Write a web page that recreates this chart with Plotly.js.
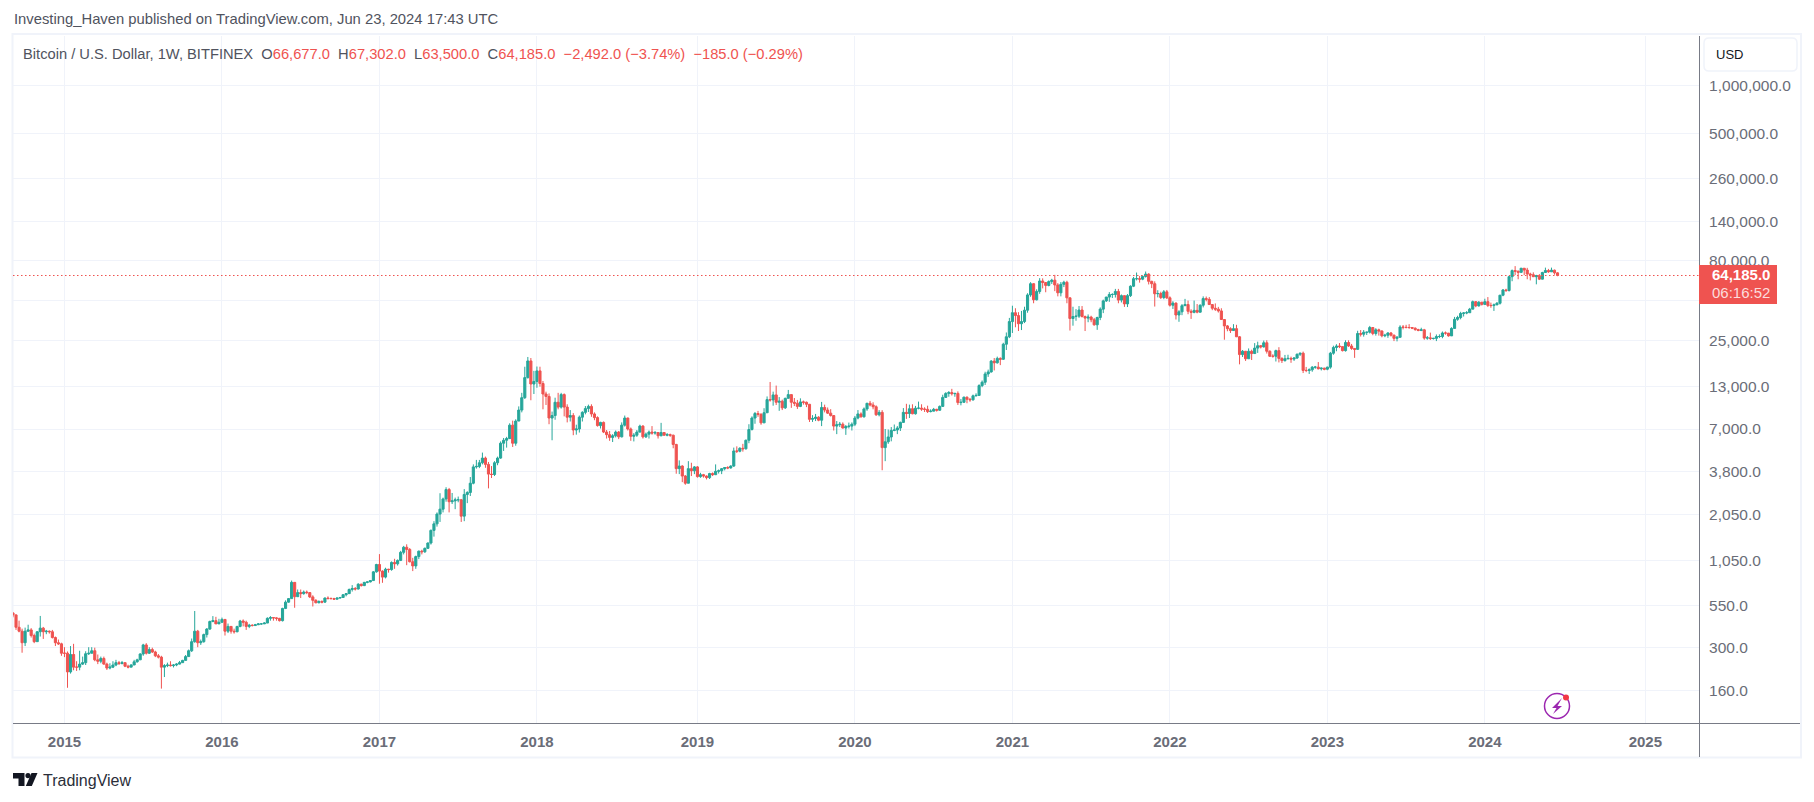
<!DOCTYPE html>
<html>
<head>
<meta charset="utf-8">
<script src="https://cdn.plot.ly/plotly-3.0.0.min.js"></script>
<style>html,body{margin:0;padding:0;background:#fff}#chart{width:1814px;height:802px}</style>
</head>
<body>
<div id="chart"></div>
<script>
const firstWeek = '2014-09-08';
const firstOpen = 492;

const close2014 = [478,400,378,320,378,385,355,325,375,395,375,378,375,345,320,315,275];
const high2014  = [495,482,440,392,398,415,395,365,378,471,402,385,382,385,350,335,320];
const low2014   = [462,385,372,277,305,375,345,318,325,350,338,362,365,340,305,310,265];

const close2015 = [275,210,270,225,225,235,240,273,275,285,250,245,255,235,222,225,232,240,237,240,228,225,232,243,250,272,310,275,290,280,265,260,225,230,232,230,232,235,240,248,262,285,325,378,320,325,360,390,435,440,420,430];
const high2015  = [300,282,305,315,245,285,262,283,300,300,298,270,262,262,240,238,245,250,246,246,240,233,235,250,254,275,315,318,300,298,285,272,265,235,240,245,235,238,246,250,268,290,340,506,385,335,365,395,440,470,465,452];
const low2015   = [260,167,205,215,213,215,232,232,268,280,245,235,238,233,216,218,222,228,232,234,225,221,225,232,240,250,265,270,272,276,260,255,165,195,225,227,224,228,234,241,248,262,280,320,300,310,320,345,385,430,420,420];

const close2016 = [448,378,405,378,375,405,438,430,405,412,410,415,420,420,425,455,460,458,455,440,525,575,605,765,622,660,650,665,660,620,590,570,580,575,610,605,605,600,610,615,640,650,690,700,695,745,730,765,770,785,890,990];
const high2016  = [460,450,422,402,392,408,445,448,440,420,418,420,425,425,430,462,470,462,462,458,530,590,610,785,768,690,690,680,680,665,635,600,590,590,615,625,615,612,615,618,645,655,700,735,715,755,750,770,775,790,900,1000];
const low2016   = [425,355,368,365,365,372,400,405,385,395,405,408,413,415,420,425,440,440,440,435,435,520,570,605,530,620,610,640,645,610,540,565,565,565,570,600,600,595,598,605,612,625,650,670,680,690,720,725,755,765,785,880];

const close2017 = [900,825,925,920,1020,1000,1050,1180,1270,1230,1030,970,1110,1200,1190,1250,1350,1620,1780,2050,2200,2550,2920,2450,2480,2520,2520,1990,2720,2800,3200,4050,4080,4300,4600,4200,3650,3630,4300,4600,5700,5950,6100,7400,5700,7850,9200,11000,14700,18700,13400,13900];
const high2017  = [1150,910,945,930,1035,1075,1065,1205,1295,1325,1255,1090,1125,1210,1225,1265,1360,1640,1850,2100,2770,2600,3020,2990,2780,2600,2640,2550,2940,2850,3500,4200,4480,4480,4980,4700,4350,4100,4400,4700,5850,6150,6250,7600,7900,8050,9700,11800,17200,19800,19500,16200];
const low2017   = [750,760,810,880,905,930,975,1040,1145,980,1020,900,930,1070,1145,1170,1240,1320,1480,1710,1830,2100,2450,2100,2370,2200,2430,1830,1850,2400,2660,3150,3950,3980,4200,4000,2970,3450,3550,4150,4550,5100,5350,6050,5400,5500,7900,8900,10800,14500,10600,11600];

const close2018 = [16200,13500,11600,11200,8200,8500,10300,9600,11500,9600,8300,8500,6900,7000,8300,8900,9400,9700,8700,8250,7350,7700,6700,6450,6200,6350,6700,6250,7400,8200,7000,6300,6400,6700,7300,6250,6500,6700,6600,6650,6350,6650,6400,6450,6400,5600,3950,4100,3550,3200,3950,3830,4050];
const high2018  = [17250,17200,14000,12000,11700,9000,11000,11800,11800,11700,10000,9200,8800,7450,8500,9050,9750,9950,10000,8900,8400,7770,7800,6900,6800,6500,6850,6800,7700,8500,8250,7150,6600,6900,7450,7400,6650,6850,7300,6800,6700,7650,6700,6600,6550,6450,5650,4450,4150,3600,4400,4300,4100];
const low2018   = [12700,12900,9300,9900,7500,5950,8000,9300,9400,8400,7700,7800,6400,6450,6650,7800,8650,8950,8350,7950,7250,7050,6600,6100,5900,5800,6200,6050,6200,7250,6850,5900,5850,6250,6650,6100,6150,6100,6450,6450,6100,6300,6350,6300,6250,5300,3670,3650,3250,3130,3200,3550,3650];

const close2019 = [3520,3620,3550,3470,3680,3620,3800,3830,3950,4010,3990,4100,5100,5080,5300,5260,5950,6950,8200,8750,8650,7650,8850,10700,10650,11450,10300,10450,9500,10900,11500,10300,10150,9700,10350,10300,10000,8050,8150,8300,7950,9550,9200,8800,8500,7300,7450,7500,7100,7250,7300,7500];
const high2019  = [4100,3720,3660,3580,3720,3740,4200,3900,3980,4020,4090,4150,5350,5450,5380,5650,6010,7500,8400,8950,9090,8800,9450,11200,13800,12000,13100,11100,10700,11000,12300,11500,10950,10650,10900,10550,10400,10050,8550,8700,8420,10350,9950,9550,9320,8480,7850,7750,7700,7420,7680,7700];
const low2019   = [3470,3460,3470,3380,3400,3550,3600,3680,3650,3850,3920,3950,4050,4950,5000,5050,5200,5700,6850,7550,8350,7440,7650,8850,10400,9800,9900,9100,9200,9350,10900,9500,9750,9350,9600,9950,9600,7750,7750,7850,7830,7300,8900,8700,8380,6850,6500,7200,7050,6430,7050,6850];

const close2020 = [8200,8700,8350,9350,10150,9900,9650,8600,8900,5350,5820,6240,6860,6900,7100,7700,8900,8750,9380,8720,9450,9460,9330,9300,9000,9060,9300,9180,9700,11050,11700,11850,11650,11700,10250,10300,11080,10750,10670,11300,11370,13100,13750,15500,15950,18650,18200,19400,19150,23800,26500,33000];
const high2020  = [8450,9200,8900,9550,10200,10500,10300,9850,9200,9190,7000,6950,7200,7470,7300,7790,9470,10070,9950,10000,9770,10400,10000,9580,9800,9300,9490,9370,9830,11480,11900,12100,12500,11800,12050,10800,11180,11200,10970,11500,11720,13350,14100,16000,16500,18950,19500,19900,19700,24300,28200,34800];
const low2020   = [7300,8050,8250,8250,9100,9700,9300,8450,8400,3860,4400,5650,5860,6780,6500,6800,7650,8100,8200,8660,8620,9300,9100,8950,8820,8900,9050,9000,9120,9650,10950,11150,11350,11150,9900,9850,10200,10150,10370,10530,11200,11340,12800,13220,14850,15800,16300,18000,17600,19000,21900,26000];

const close2021 = [37500,36000,32000,33000,38900,48500,57000,45200,51000,59300,58000,55600,58800,60000,56000,50000,56500,58200,46500,34500,35500,35700,39000,35500,34700,35200,33900,31500,35000,39500,44500,47000,48800,48800,51000,45000,48000,42600,48000,55000,61300,61300,60900,63300,65500,59000,57000,49300,49500,46700,50700,46500];
const high2021  = [41500,40000,37800,38500,40900,49700,58300,57500,52600,61800,61600,58400,59800,61200,64800,57500,58400,59500,59500,46700,40900,39500,41300,41300,36000,36600,35900,34800,35400,40500,45300,47200,50500,49700,52900,52900,48800,48000,49100,55700,62900,67000,63700,64300,68000,66300,59500,59000,51900,50800,52000,52100];
const low2021   = [28000,30400,28800,29200,32300,37500,47200,43000,44800,49300,53300,50400,54900,56800,51200,47500,47500,54300,43000,29000,31100,33400,34800,35000,28800,32700,32700,31100,29300,33700,37300,43800,43900,46400,46700,43000,43500,40800,40700,47100,54300,59800,57900,60000,62300,56400,53500,41000,46800,45700,45600,45700];

const close2022 = [41800,43100,36300,38000,41500,42200,38300,37700,38800,37800,41800,46000,45500,42200,40000,39500,38500,34000,31000,29800,29000,29800,26500,20500,21500,19300,21500,20800,22500,23300,22900,24300,21500,20000,20000,21700,19400,18800,19300,19400,19200,19500,20600,20900,16300,16300,16450,17100,17100,16700,16850,16600];
const high2022  = [47500,44300,43500,38900,42500,45800,44700,39400,44700,42500,42300,47500,47400,47000,42400,42900,40800,40000,34200,31400,30400,31800,31500,26800,21900,21600,22400,22000,24200,24700,23500,25100,25200,21800,20600,22000,22800,19700,20400,20450,19900,19700,20800,21000,21400,17150,16800,17350,17400,18400,17000,16950];
const low2022   = [41000,39600,34000,32900,36200,41700,36700,34300,37200,37200,37600,40500,44200,42100,38900,38500,37600,33800,25400,28700,28000,28900,26400,17800,19800,18700,19300,18950,20900,21000,22400,22700,20800,19800,19600,18550,18300,18150,18500,19100,18200,18700,19250,20100,15700,15900,15500,16000,16700,16550,16300,16350];

const close2023 = [17100,20900,22700,23200,23000,21700,24400,23200,22400,22100,27800,27500,28300,28300,30300,27800,29300,28800,26900,27100,28000,27100,25900,26300,30500,30400,30300,30300,30000,29400,29050,29300,26000,26100,25850,25900,26600,26600,28000,27950,26850,29900,34100,35000,37100,37400,37500,39500,44000,41400,43700,42300];
const high2023  = [17200,21300,23300,23800,24200,23000,25200,25200,23900,22500,28900,29200,29200,28500,31000,30500,30000,29800,29100,27650,28300,28400,27400,26800,31300,31400,31500,31800,30400,30350,29750,30200,29700,26800,28150,26100,27400,27450,28600,28600,28000,30400,35300,35900,38000,37900,38400,40200,44700,44400,44300,43400];
const low2023   = [16350,16700,20450,21500,22500,21450,21400,22900,21950,19550,21900,26600,26550,27200,27800,27100,26950,26950,26300,26350,26100,26600,24900,24800,26200,29500,29900,29700,29600,28900,28700,28750,25400,25400,25300,25450,24900,26000,25950,27300,26550,26800,29800,33400,34100,35500,36700,37500,39500,40600,41000,41600];

const close2024 = [44000,41700,41600,42000,43000,48300,52100,51700,63100,68900,68300,67200,71300,69400,65600,64900,63100,64000,60900,67000,69000,67700,69300,66677,64185];
const high2024  = [45900,47000,43400,42800,43800,48500,52800,53000,64000,70000,73500,68900,71600,71400,71700,66800,67200,64800,65500,67700,71900,70600,71900,69900,67302];
const low2024   = [42600,40700,40300,38500,41900,42200,47600,50600,50900,59100,64600,60800,66500,64500,60800,59800,62800,56500,60100,60700,66600,66700,67700,65000,63500];

const priceTicks = [1000000,500000,260000,140000,80000,45000,25000,13000,7000,3800,2050,1050,550,300,160];
const priceLabels = ['1,000,000.0','500,000.0','260,000.0','140,000.0','80,000.0','','25,000.0','13,000.0','7,000.0','3,800.0','2,050.0','1,050.0','550.0','300.0','160.0'];
const yearTicks = ['2015-01-05','2016-01-04','2017-01-02','2018-01-01','2019-01-07','2020-01-06','2021-01-04','2022-01-03','2023-01-02','2024-01-01','2025-01-06'];
const yearLabels = ['2015','2016','2017','2018','2019','2020','2021','2022','2023','2024','2025'];
const lastPrice = 64185;

const closes = [].concat(close2014,close2015,close2016,close2017,close2018,close2019,close2020,close2021,close2022,close2023,close2024);
const highs  = [].concat(high2014,high2015,high2016,high2017,high2018,high2019,high2020,high2021,high2022,high2023,high2024);
const lows   = [].concat(low2014,low2015,low2016,low2017,low2018,low2019,low2020,low2021,low2022,low2023,low2024);
if (closes.length !== highs.length || closes.length !== lows.length) throw new Error('len ' + closes.length + ' ' + highs.length + ' ' + lows.length);
const opens = [firstOpen].concat(closes.slice(0,-1));
const weeks = closes.map((_, i) => new Date(Date.parse(firstWeek + 'T00:00:00Z') + i * 7 * 86400000).toISOString().slice(0,10));

const UP = '#26a69a', DOWN = '#ef5350', GRID = '#f0f3fa', AXIS = '#787b86', TXT = '#6a6d78';
const FONT = '"Liberation Sans", Arial, sans-serif';
const W = 1814, H = 802, L = 13, R = 1699, T = 36, B = 723;
const px = x => (x - L) / (R - L);
const py = y => (B - y) / (B - T);
const rect = (x0,y0,x1,y1,o) => Object.assign({type:'rect',xref:'paper',yref:'paper',x0:px(x0),x1:px(x1),y0:py(y0),y1:py(y1)},o);
const hline = (x0,x1,y,c,w) => ({type:'line',xref:'paper',yref:'paper',x0:px(x0),x1:px(x1),y0:py(y),y1:py(y),line:{color:c,width:w}});
const vline = (x,y0,y1,c,w) => ({type:'line',xref:'paper',yref:'paper',x0:px(x),x1:px(x),y0:py(y0),y1:py(y1),line:{color:c,width:w}});
const poly = (pts,fill) => ({type:'path',xref:'paper',yref:'paper',path:'M'+pts.map(p=>px(p[0])+','+py(p[1])).join(' L')+' Z',fillcolor:fill,line:{width:0}});
const circle = (cx,cy,r,o) => Object.assign({type:'circle',xref:'paper',yref:'paper',x0:px(cx-r),x1:px(cx+r),y0:py(cy+r),y1:py(cy-r)},o);
const text = (x,y,t,size,color,extra) => Object.assign({xref:'paper',yref:'paper',x:px(x),y:py(y),xanchor:'left',yanchor:'middle',showarrow:false,text:t,font:{family:FONT,size:size,color:color},borderpad:0},extra||{});
const red = s => '<span style="color:#ef5350">'+s+'</span>';

const shapes = [
  rect(12.5,34,1801,757.5,{line:{color:GRID,width:2},layer:'below'}),
  hline(13,1800,723.5,AXIS,1),
  vline(1699.5,36,757,AXIS,1),
  {type:'line',xref:'paper',yref:'y',x0:0,x1:1,y0:lastPrice,y1:lastPrice,line:{color:DOWN,width:1,dash:'1.5px,2.5px'}},
  {type:'path',xref:'paper',yref:'paper',
    path:(function(){const a=1704,b=1797,c=38,d=71,r=5;const P=(x,y)=>px(x)+','+py(y);
      return 'M'+P(a+r,c)+' L'+P(b-r,c)+' Q'+P(b,c)+' '+P(b,c+r)+' L'+P(b,d-r)+' Q'+P(b,d)+' '+P(b-r,d)+' L'+P(a+r,d)+' Q'+P(a,d)+' '+P(a,d-r)+' L'+P(a,c+r)+' Q'+P(a,c)+' '+P(a+r,c)+' Z';})(),
    line:{color:GRID,width:1.5},fillcolor:'#ffffff'},
  rect(1699,265,1777,304,{fillcolor:DOWN,line:{width:0}}),
  circle(1557,706,12.5,{line:{color:'#9c27b0',width:1.5}}),
  poly([[1562,698],[1552,708],[1556.5,708],[1553,714],[1562,706],[1557.5,706]],'#9c27b0'),
  circle(1566,697.5,3,{fillcolor:'#f23645',line:{width:0}}),
  poly([[13,773],[24.5,773],[24.5,786],[18.5,786],[18.5,778.5],[13,778.5]],'#131722'),
  circle(28,775.6,2.6,{fillcolor:'#131722',line:{width:0}}),
  poly([[31.5,773],[37.5,773],[31.8,786],[25.8,786]],'#131722')
];

const annotations = [
  text(13,19,'Investing_Haven published on TradingView.com, Jun 23, 2024 17:43 UTC',14.8,'#50535e'),
  text(22,53.5,'Bitcoin / U.S. Dollar, 1W, BITFINEX&nbsp;&nbsp;O'+red('66,677.0')+'&nbsp;&nbsp;H'+red('67,302.0')+'&nbsp;&nbsp;L'+red('63,500.0')+'&nbsp;&nbsp;C'+red('64,185.0')+'&nbsp;&nbsp;'+red('−2,492.0 (−3.74%)')+'&nbsp;&nbsp;'+red('−185.0 (−0.29%)'),14.7,'#50535e'),
  text(1715,54.5,'USD',13,'#131722'),
  text(1711,274,'<b>64,185.0</b>',15,'#ffffff'),
  text(1711,292.5,'06:16:52',15,'#fcdcdc'),
  text(42,781,'TradingView',16,'#2a2e39')
];

const trace = {
  type:'candlestick', x:weeks, open:opens, high:highs, low:lows, close:closes,
  increasing:{line:{color:UP,width:1},fillcolor:UP},
  decreasing:{line:{color:DOWN,width:1},fillcolor:DOWN},
  whiskerwidth:0, hoverinfo:'skip', showlegend:false
};

const layout = {
  width:W, height:H, autosize:false,
  margin:{l:L,r:W-R,t:T,b:H-B,pad:0},
  paper_bgcolor:'#ffffff', plot_bgcolor:'#ffffff',
  showlegend:false, dragmode:false,
  boxmode:'overlay', boxgap:0.3, boxgroupgap:0,
  xaxis:{type:'date',range:['2014-09-08','2025-05-10'],rangeslider:{visible:false},
    tickmode:'array',tickvals:yearTicks,ticktext:yearLabels,
    showgrid:true,gridcolor:GRID,gridwidth:1,zeroline:false,showline:false,
    ticks:'outside',ticklen:5,tickcolor:'rgba(0,0,0,0)',
    tickfont:{family:FONT,size:15,color:TXT,weight:'bold'},tickangle:0},
  yaxis:{type:'log',side:'right',range:[2.0019,6.309],
    tickmode:'array',tickvals:priceTicks,ticktext:priceLabels,
    showgrid:true,gridcolor:GRID,gridwidth:1,zeroline:false,showline:false,
    ticks:'outside',ticklen:6,tickcolor:'rgba(0,0,0,0)',
    tickfont:{family:FONT,size:15.5,color:TXT}},
  shapes:shapes, annotations:annotations
};
Plotly.newPlot('chart',[trace],layout,{displayModeBar:false,staticPlot:true,responsive:false});
</script>
</body>
</html>
